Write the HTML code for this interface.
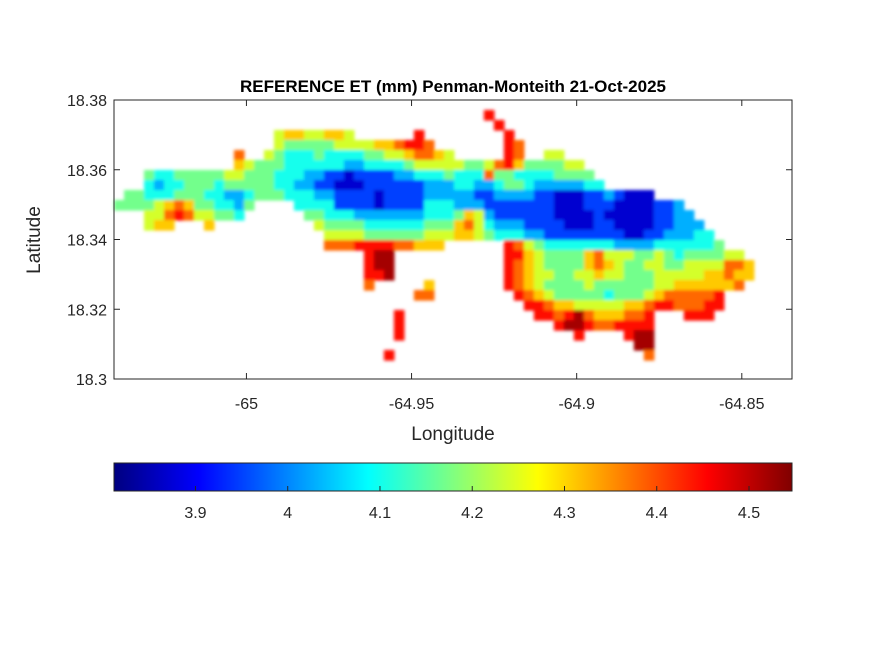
<!DOCTYPE html>
<html><head><meta charset="utf-8"><style>
body{margin:0;background:#fff;}
svg{display:block;font-family:"Liberation Sans",sans-serif;}
</style></head><body>
<svg id="fig" width="875" height="656" viewBox="0 0 875 656" xmlns="http://www.w3.org/2000/svg">
<defs><filter id="soft" x="-5%" y="-5%" width="110%" height="110%"><feGaussianBlur stdDeviation="1.6"/></filter></defs>
<rect width="875" height="656" fill="#fff"/>
<g id="cells" filter="url(#soft)"></g>
<g id="axes"></g>
<g id="cbar"></g>
<text x="453" y="92" text-anchor="middle" font-size="17" font-weight="bold" fill="#000">REFERENCE ET (mm) Penman-Monteith 21-Oct-2025</text>
<text x="453" y="440" text-anchor="middle" font-size="19" fill="#262626">Longitude</text>
<text transform="translate(40,240) rotate(-90)" text-anchor="middle" font-size="19" fill="#262626">Latitude</text>
</svg>
<script>
// grid definition (lon/lat of cell origin)
const lonStart = -65.0401;
const lonStep = 0.003027;
const latStart = 18.38;
const latStep = 0.002868;
// ET value for each level code
const levelValues = [3.87, 3.95, 4.03, 4.10, 4.17, 4.24, 4.31, 4.38, 4.45, 4.52];
// rows of "startCol:levels" segments
const gridRows = [
"",
"37:8",
"38:8",
"16:56655665,30:8,39:8",
"16:5444445555667887,39:87",
"12:7,15:5433343333445567765,39:87,43:55",
"12:6544433333322333" + "3455555445786444455",
"3:433444445544433322110111122333433374433334444",
"3:3233444344444332211000111111222332234432222233",
"1:44333444332234443332211110111122222112222110001121000",
"0:44445676443324,18:" + "3333" + "111101" + "111" + "3332221" + "1111110001" + "110000112",
"3:5578755443,19:" + "4433322222" + "2233346521" + "1111100001" + "000001122",
"3:566,9:6,20:544443333334446753222111100011000011222",
"21:555544444455566543332211111111001122233",
"21:777888877666,39:8754333333322223333334",
"25:899,39:886544446755544543444455",
"25:899,39:8765444467654455445555776",
"25:889,39:8765544556554445555566766",
"25:7,31:6,39:876544445444444556666667",
"30:77,40:876544444344456777778",
"41:88766555556678877788",
"28:8,42:887897666778,57:888",
"28:8,44:8998778888",
"28:8,46:8,51:899",
"52:99",
"27:8,53:7",
"",""
];
// axis ticks
const xTicks = [-65, -64.95, -64.9, -64.85];
const xTickLabels = ["-65", "-64.95", "-64.9", "-64.85"];
const yTicks = [18.38, 18.36, 18.34, 18.32, 18.3];
const yTickLabels = ["18.38", "18.36", "18.34", "18.32", "18.3"];
const cbarTicks = [3.9, 4.0, 4.1, 4.2, 4.3, 4.4, 4.5];
const cbarTickLabels = ["3.9", "4", "4.1", "4.2", "4.3", "4.4", "4.5"];
const cMin = 3.8117, cMax = 4.5466;

const NS = "http://www.w3.org/2000/svg";
const AX = {x0:114, x1:792, y0:100, y1:379};
const lonMin = -65.0401, lonMax = -64.8348, latMin = 18.3, latMax = 18.38;
function xScale(lon){return AX.x0 + (lon-lonMin)/(lonMax-lonMin)*(AX.x1-AX.x0);}
function yScale(lat){return AX.y1 - (lat-latMin)/(latMax-latMin)*(AX.y1-AX.y0);}
function cScale(v){return AX.x0 + (v-cMin)/(cMax-cMin)*(AX.x1-AX.x0);}
function cl(v){return Math.max(0,Math.min(1,v));}
function jet(v){
  const t = cl((v-cMin)/(cMax-cMin));
  const r = cl(1.5-Math.abs(4*t-3)), g = cl(1.5-Math.abs(4*t-2)), b = cl(1.5-Math.abs(4*t-1));
  return `rgb(${Math.round(r*255)},${Math.round(g*255)},${Math.round(b*255)})`;
}
function mk(tag, attrs, parent){
  const e = document.createElementNS(NS, tag);
  for (const k in attrs) e.setAttribute(k, attrs[k]);
  parent.appendChild(e); return e;
}
// heatmap cells
const cells = document.getElementById('cells');
gridRows.forEach((row, r) => {
  if (!row) return;
  row.split(',').forEach(seg => {
    const [s, lv] = seg.split(':');
    const start = parseInt(s);
    for (let i = 0; i < lv.length; i++) {
      const ch = lv[i];
      if (ch < '0' || ch > '9') continue;
      const v = levelValues[+ch];
      const lon = lonStart + (start+i)*lonStep, lat = latStart - r*latStep;
      const x = xScale(lon), y = yScale(lat);
      const x2 = xScale(lon+lonStep), y2 = yScale(lat-latStep);
      const el = mk('rect', {x:x.toFixed(2), y:y.toFixed(2), width:(x2-x+0.6).toFixed(2), height:(y2-y+0.6).toFixed(2), fill:jet(v)}, cells);
      
      
    }
  });
});
// axes
const axes = document.getElementById('axes');
const box = mk('rect', {x:AX.x0, y:AX.y0, width:AX.x1-AX.x0, height:AX.y1-AX.y0, fill:'none', stroke:'#262626', 'stroke-width':1}, axes);


xTicks.forEach((t, i) => {
  const x = xScale(t);
  mk('line', {x1:x, x2:x, y1:AX.y1, y2:AX.y1-6, stroke:'#262626'}, axes);
  mk('line', {x1:x, x2:x, y1:AX.y0, y2:AX.y0+6, stroke:'#262626'}, axes);
  const tx = mk('text', {x:x, y:409, 'text-anchor':'middle', 'font-size':16, fill:'#262626'}, axes);
  tx.textContent = xTickLabels[i];
  
  
});
yTicks.forEach((t, i) => {
  const y = yScale(t);
  mk('line', {x1:AX.x0, x2:AX.x0+6, y1:y, y2:y, stroke:'#262626'}, axes);
  mk('line', {x1:AX.x1, x2:AX.x1-6, y1:y, y2:y, stroke:'#262626'}, axes);
  const tx = mk('text', {x:107, y:y+6, 'text-anchor':'end', 'font-size':16, fill:'#262626'}, axes);
  tx.textContent = yTickLabels[i];
  
  
});
// colorbar
const cbar = document.getElementById('cbar');
const defs = mk('defs', {}, cbar);
const grad = mk('linearGradient', {id:'jetg', x1:'0', x2:'1', y1:'0', y2:'0'}, defs);
for (let i = 0; i <= 32; i++) {
  const v = cMin + (cMax-cMin)*i/32;
  mk('stop', {offset:(i/32).toFixed(4), 'stop-color':jet(v)}, grad);
}
const cb = mk('rect', {x:AX.x0, y:463, width:AX.x1-AX.x0, height:28, fill:'url(#jetg)', stroke:'#262626', 'stroke-width':1}, cbar);


cbarTicks.forEach((t, i) => {
  const x = cScale(t);
  mk('line', {x1:x, x2:x, y1:491, y2:486, stroke:'#262626'}, cbar);
  const tx = mk('text', {x:x, y:518, 'text-anchor':'middle', 'font-size':16, fill:'#262626'}, cbar);
  tx.textContent = cbarTickLabels[i];
  
  
});
</script>
</body></html>
